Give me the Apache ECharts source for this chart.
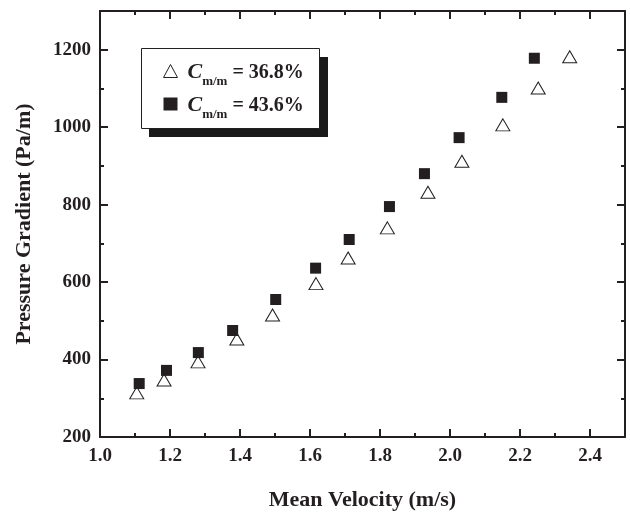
<!DOCTYPE html>
<html>
<head>
<meta charset="utf-8">
<script src="https://cdn.jsdelivr.net/npm/echarts@6/dist/echarts.min.js"></script>
<style>html,body{margin:0;padding:0;background:#fff}#c{width:630px;height:513px}</style>
</head>
<body>
<div id="c"></div>
<script>
// Data: Mean velocity (m/s) vs pressure gradient (Pa/m)
var velA = [1.105, 1.183, 1.280, 1.391, 1.493, 1.617, 1.709, 1.821, 1.937, 2.034, 2.151, 2.252, 2.342];
var pgA  = [314, 347, 394, 453, 515, 596, 662, 740, 832, 912, 1006, 1101, 1182];
var velB = [1.112, 1.190, 1.281, 1.379, 1.502, 1.616, 1.712, 1.827, 1.927, 2.026, 2.148, 2.241];
var pgB  = [338, 372, 418, 475, 555, 636, 710, 795, 880, 973, 1077, 1178];
var seriesNames = ['A', 'B'];
var seriesLabels = ['36.8%', '43.6%'];
var xTitle = 'Mean Velocity (m/s)';
var yTitle = 'Pressure Gradient (Pa/m)';

function pairs(xs, ys) { return xs.map(function (x, i) { return [x, ys[i]]; }); }

var ink = '#231f20';
var font = 'Liberation Serif';
var chart = echarts.init(document.getElementById('c'), null, { renderer: 'canvas' });

function xAx(pos, major, labels) {
  return {
    type: 'value', position: pos, min: 1.0, max: 2.5, interval: major ? 0.2 : 0.1,
    gridIndex: 0,
    axisLine: { show: major, lineStyle: { color: ink, width: 2 } },
    axisTick: { show: true, inside: true, length: major ? 8 : 4, lineStyle: { color: ink, width: 2 } },
    axisLabel: { show: labels, showMaxLabel: false, margin: 10, color: ink, fontFamily: font, fontWeight: 'bold', fontSize: 19,
      formatter: function (v) { return v.toFixed(1); } },
    splitLine: { show: false },
    name: labels ? xTitle : '', nameLocation: 'middle', nameGap: 52,
    nameTextStyle: { color: ink, fontFamily: font, fontWeight: 'bold', fontSize: 22 }
  };
}
function yAx(pos, major, labels) {
  return {
    type: 'value', position: pos, min: 200, max: 1300, interval: major ? 200 : 100,
    gridIndex: 0,
    axisLine: { show: major, lineStyle: { color: ink, width: 2 } },
    axisTick: { show: true, inside: true, length: major ? 8 : 4, lineStyle: { color: ink, width: 2 } },
    axisLabel: { show: labels, showMaxLabel: false, margin: 9, color: ink, fontFamily: font, fontWeight: 'bold', fontSize: 19,
      formatter: function (v) { return String(v); } },
    splitLine: { show: false },
    name: labels ? yTitle : '', nameLocation: 'middle', nameGap: 65, nameRotate: 90,
    nameTextStyle: { color: ink, fontFamily: font, fontWeight: 'bold', fontSize: 22 }
  };
}

var richName = {
  i: { fontFamily: font, fontStyle: 'italic', fontWeight: 'bold', fontSize: 22, color: ink, lineHeight: 24, verticalAlign: 'bottom' },
  s: { fontFamily: font, fontWeight: 'bold', fontSize: 13, color: ink, lineHeight: 24, verticalAlign: 'bottom', padding: [0, 0, -5, 0] },
  n: { fontFamily: font, fontWeight: 'bold', fontSize: 20, color: ink, lineHeight: 24, verticalAlign: 'bottom' }
};

chart.setOption({
  animation: false,
  backgroundColor: '#fff',
  grid: { left: 100, right: 5, top: 11, bottom: 76, containLabel: false, outerBoundsMode: 'none' },
  xAxis: [xAx('bottom', true, true), xAx('bottom', false, false), xAx('top', true, false), xAx('top', false, false)],
  yAxis: [yAx('left', true, true), yAx('left', false, false), yAx('right', true, false), yAx('right', false, false)],
  graphic: [
    { type: 'rect', left: 149, top: 57, shape: { width: 179, height: 80 }, style: { fill: '#1a1a1a' }, z: 10 },
    { type: 'rect', left: 141, top: 48, shape: { width: 178, height: 80 }, style: { fill: '#fff', stroke: ink, lineWidth: 1 }, z: 11 }
  ],
  legend: {
    orient: 'vertical', left: 158, top: 56, z: 20, itemGap: 6, itemWidth: 14, itemHeight: 13,
    data: [
      { name: seriesNames[0], icon: 'triangle', itemStyle: { color: '#fff', borderColor: ink, borderWidth: 1 } },
      { name: seriesNames[1], icon: 'rect', itemStyle: { color: ink, borderWidth: 0 } }
    ],
    formatter: function (name) {
      var idx = seriesNames.indexOf(name);
      return '{i|C}{s|m/m}{n| = ' + seriesLabels[idx] + '}';
    },
    textStyle: { rich: richName, padding: [0, 0, 0, 5] },
    selectedMode: false
  },
  series: [
    { name: seriesNames[0], type: 'scatter', xAxisIndex: 0, yAxisIndex: 0, data: pairs(velA, pgA),
      symbol: 'triangle', symbolSize: [14, 12], itemStyle: { color: '#fff', borderColor: ink, borderWidth: 1, opacity: 1 } },
    { name: seriesNames[1], type: 'scatter', xAxisIndex: 0, yAxisIndex: 0, data: pairs(velB, pgB),
      symbol: 'rect', symbolSize: 11, itemStyle: { color: ink, opacity: 1 } }
  ]
});
</script>
</body>
</html>
